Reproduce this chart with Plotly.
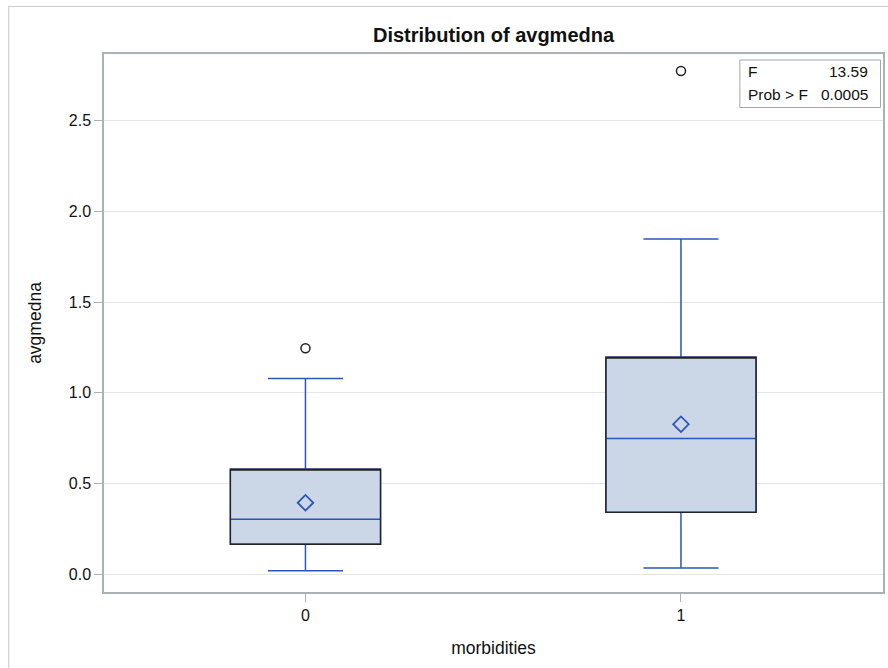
import plotly.graph_objects as go

# ---- data ----
categories = ["0", "1"]
positions = [0, 1]
lower_whisker = [0.018, 0.033]
q1_vals = [0.164, 0.340]
median_vals = [0.302, 0.747]
q3_vals = [0.578, 1.196]
upper_whisker = [1.078, 1.847]
mean_vals = [0.393, 0.826]
outlier_x = [0, 1]
outlier_y = [1.245, 2.774]
stat_labels = ["F", "Prob > F"]
stat_values = ["13.59", "0.0005"]
y_ticks = [0.0, 0.5, 1.0, 1.5, 2.0, 2.5]

BLUE = "#2b57b5"
FILL = "#cbd6e6"
FONT = "Liberation Sans, Arial, sans-serif"

fig = go.Figure()

# full box (blue whiskers, median)
fig.add_trace(go.Box(
    x=positions, q1=q1_vals, median=median_vals, q3=q3_vals,
    lowerfence=lower_whisker, upperfence=upper_whisker,
    fillcolor=FILL, line=dict(color=BLUE, width=1.5),
    width=0.4, whiskerwidth=0.5, boxpoints=False,
    hoverinfo="skip", showlegend=False,
))
# black outline of box
fig.add_trace(go.Box(
    x=positions, q1=q1_vals, median=q3_vals, q3=q3_vals,
    lowerfence=q1_vals, upperfence=q3_vals,
    fillcolor="rgba(0,0,0,0)", line=dict(color="#222222", width=1.3),
    width=0.4, whiskerwidth=0, boxpoints=False,
    hoverinfo="skip", showlegend=False,
))
# means
fig.add_trace(go.Scatter(
    x=positions, y=mean_vals, mode="markers",
    marker=dict(symbol="diamond-open", size=12, color=BLUE, line=dict(width=1.8, color=BLUE)),
    showlegend=False, hoverinfo="skip",
))
# outliers
fig.add_trace(go.Scatter(
    x=outlier_x, y=outlier_y, mode="markers",
    marker=dict(symbol="circle-open", size=9, color="#222222", line=dict(width=1.5, color="#222222")),
    showlegend=False, hoverinfo="skip",
))

W, H = 888, 668
L, R, T, B = 104, 3, 54, 76
pw, ph = W - L - R, H - T - B

def px_x(x):
    return (x - L) / pw

def px_y(y):
    return (H - B - y) / ph

annotations = []
row_y = [71, 94]
for lab, val, yy in zip(stat_labels, stat_values, row_y):
    annotations.append(dict(x=px_x(747.5), y=px_y(yy), xref="paper", yref="paper",
                            text=lab, showarrow=False, xanchor="left", yanchor="middle",
                            font=dict(family=FONT, size=15.5, color="#111111")))
    annotations.append(dict(x=px_x(872), y=px_y(yy), xref="paper", yref="paper",
                            text=val, showarrow=False, xanchor="right", yanchor="middle",
                            font=dict(family=FONT, size=15.5, color="#111111")))

shapes = [
    dict(type="rect", xref="paper", yref="paper",
         x0=px_x(741.5), x1=px_x(882.5), y0=px_y(107.5), y1=px_y(60),
         line=dict(color="#a6a6a6", width=1), fillcolor="rgba(0,0,0,0)"),
    dict(type="rect", xref="paper", yref="paper",
         x0=px_x(8.5), x1=px_x(900), y0=px_y(690), y1=px_y(6.5),
         line=dict(color="#cfcfcf", width=1.2), fillcolor="rgba(0,0,0,0)", layer="below"),
]

fig.update_layout(
    width=W, height=H,
    margin=dict(l=L, r=R, t=T, b=B),
    paper_bgcolor="white", plot_bgcolor="white",
    boxmode="overlay",
    font=dict(family=FONT, size=16, color="#111111"),
    title=dict(text="<b>Distribution of avgmedna</b>", x=px_x(494.5), xref="paper",
               y=1 - 35 / H, yref="container", xanchor="center", yanchor="middle",
               font=dict(family=FONT, size=20, color="#111111")),
    annotations=annotations,
    shapes=shapes,
    xaxis=dict(
        range=[-0.5365, 1.538], tickvals=positions, ticktext=categories,
        showgrid=False, zeroline=False,
        showline=True, mirror=True, linecolor="#abb2b6", linewidth=1.5,
        ticks="outside", ticklen=8, tickcolor="#abb2b6", tickwidth=1,
        tickfont=dict(family=FONT, size=16, color="#111111"),
        title=dict(text="morbidities", font=dict(family=FONT, size=17.5, color="#111111"), standoff=19),
    ),
    yaxis=dict(
        range=[-0.0993, 2.868], tickvals=y_ticks, tickformat=".1f",
        showgrid=True, gridcolor="#e6e6e6", gridwidth=1, zeroline=False,
        showline=True, mirror=True, linecolor="#abb2b6", linewidth=1.5,
        ticks="outside", ticklen=8, tickcolor="#abb2b6", tickwidth=1,
        tickfont=dict(family=FONT, size=16, color="#111111"),
        title=dict(text="avgmedna", font=dict(family=FONT, size=17.5, color="#111111"), standoff=23),
    ),
)

fig.write_html("out.html")
